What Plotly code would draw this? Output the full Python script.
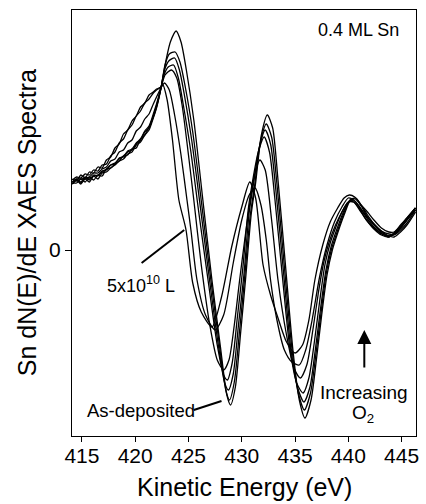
import plotly.graph_objects as go

# ---- data (energy in eV, signal in arbitrary units, 0 = baseline) ----
ev_tail = [414.1, 414.5, 414.9, 415.3, 415.7, 416.1, 416.5, 416.9, 417.3, 417.7, 418.1,
           418.5, 418.9, 419.3, 419.7, 420.1, 420.5, 420.9, 421.3, 421.7, 422.0]

# As-deposited
tail_A = [66, 70, 66, 71, 68, 74, 71, 77, 78, 82, 85, 89, 91, 96, 98, 105, 108, 115, 120, 132, 142]
ev_A = [422.44, 422.9, 423.3, 423.84, 424.3, 424.8, 425.5, 426.35, 427.2, 428.0, 428.6, 428.95,
        429.4, 429.9, 430.35, 430.9, 431.3, 431.84, 432.4, 432.9, 433.4, 434.1, 434.8, 435.4,
        435.93, 436.5, 437.0, 437.5, 438.0, 438.5, 439.0, 439.6, 440.2, 440.7, 441.2, 441.8,
        442.5, 443.2, 443.8, 444.3, 444.9, 445.5, 446.3]
sig_A = [163, 190, 208, 219, 208, 180, 130, 50, -30, -97, -145, -155,
         -137, -82, -30, 37, 67, 115, 135, 122, 70, -15, -100, -150,
         -168, -150, -110, -65, -25, 0, 17, 35, 50, 52, 45, 35,
         25, 18, 14, 13, 18, 25, 38]

tail_B = [67, 67, 71, 68, 73, 70, 75, 74, 81, 82, 86, 89, 94, 95, 101, 102, 111, 115, 123, 133, 143]
ev_B = [422.44, 422.8, 423.2, 423.75, 424.2, 424.7, 425.4, 426.25, 427.1, 427.9, 428.5, 428.85,
        429.3, 429.8, 430.25, 430.8, 431.2, 431.75, 432.3, 432.8, 433.3, 434.0, 434.7, 435.3,
        435.88, 436.45, 436.95, 437.45, 437.95, 438.45, 438.95, 439.55, 440.15, 440.65, 441.2, 441.8,
        442.5, 443.2, 443.8, 444.3, 444.9, 445.5, 446.3]
sig_B = [163, 185, 196, 198, 188, 163, 118, 45, -30, -95, -140, -150,
         -132, -80, -30, 35, 64, 108, 126, 113, 66, -17, -98, -143,
         -160, -143, -105, -62, -22, 2, 18, 36, 50, 51, 44, 33,
         24, 17, 14, 15, 20, 27, 40]

tail_C = [68, 71, 68, 73, 70, 75, 74, 79, 80, 85, 87, 91, 94, 98, 100, 106, 110, 118, 122, 134, 144]
ev_C = [422.44, 422.75, 423.15, 423.7, 424.15, 424.6, 425.3, 426.15, 427.0, 427.8, 428.4, 428.75,
        429.2, 429.7, 430.2, 430.7, 431.1, 431.65, 432.2, 432.7, 433.2, 433.9, 434.6, 435.25,
        435.83, 436.4, 436.9, 437.4, 437.9, 438.4, 438.9, 439.5, 440.1, 440.6, 441.1, 441.8,
        442.5, 443.2, 443.8, 444.3, 444.9, 445.5, 446.3]
sig_C = [163, 180, 189, 192, 180, 156, 110, 40, -32, -95, -133, -140,
         -124, -74, -25, 38, 66, 103, 120, 106, 60, -20, -98, -138,
         -152, -137, -100, -58, -20, 4, 20, 37, 49, 49, 42, 31,
         22, 16, 13, 16, 22, 30, 42]

tail_D = [66, 70, 67, 72, 71, 74, 75, 78, 81, 85, 86, 92, 93, 99, 101, 107, 111, 119, 124, 136, 146]
ev_D = [422.44, 422.7, 423.1, 423.6, 424.05, 424.5, 425.2, 426.0, 426.9, 427.7, 428.3, 428.65,
        429.1, 429.6, 430.1, 430.6, 431.0, 431.55, 432.1, 432.6, 433.1, 433.8, 434.5, 435.15,
        435.75, 436.3, 436.8, 437.3, 437.8, 438.3, 438.8, 439.4, 440.0, 440.5, 441.0, 441.7,
        442.4, 443.1, 443.8, 444.3, 444.9, 445.5, 446.3]
sig_D = [163, 175, 183, 185, 172, 146, 100, 35, -35, -95, -125, -130,
         -113, -66, -18, 40, 68, 98, 113, 98, 52, -25, -97, -133,
         -143, -128, -93, -52, -15, 7, 22, 38, 48, 48, 41, 30,
         21, 15, 13, 17, 23, 31, 42]

tail_E = [68, 71, 71, 72, 73, 77, 77, 81, 83, 89, 91, 98, 100, 107, 110, 119, 123, 131, 136, 146, 153]
ev_E = [422.44, 422.8, 423.4, 423.9, 424.4, 425.0, 425.5, 426.2, 427.0, 427.7, 428.3, 428.8,
        429.3, 429.8, 430.3, 430.8, 431.2, 431.7, 432.2, 432.8, 433.4, 434.2, 434.9, 435.5,
        436.1, 436.7, 437.2, 437.7, 438.2, 438.8, 439.4, 440.0, 440.5, 441.0, 441.7, 442.4,
        443.1, 443.8, 444.3, 444.9, 445.5, 446.3]
sig_E = [163, 175, 180, 172, 145, 95, 50, -15, -75, -110, -120, -110,
         -75, -30, 12, 50, 75, 90, 80, 30, -30, -85, -118, -128,
         -115, -78, -42, -12, 8, 25, 38, 48, 48, 42, 30, 22,
         16, 14, 17, 24, 32, 42]

tail_F = [70, 73, 72, 76, 75, 80, 79, 85, 86, 94, 98, 107, 111, 120, 125, 134, 139, 147, 151, 157, 160]
ev_F = [422.44, 422.75, 423.2, 423.7, 424.3, 424.86, 425.23, 425.8, 426.6, 427.5, 428.3, 429.2,
        430.0, 430.7, 431.25, 431.8, 432.3, 432.7, 433.3, 434.0, 434.7, 435.4, 436.0, 436.6,
        437.3, 438.0, 438.7, 439.4, 440.0, 440.5, 441.0, 441.7, 442.4, 443.1, 443.8, 444.3,
        444.9, 445.5, 446.3]
sig_F = [163, 167, 160, 135, 95, 50, 20, -30, -65, -80, -65, -13,
         30, 55, 62, 45, 10, -30, -70, -100, -112, -115, -100, -70,
         -27, 5, 28, 43, 52, 50, 44, 34, 26, 19, 16, 16,
         22, 30, 40]

# 5x10^10 L
tail_G = [71, 69, 75, 72, 78, 77, 83, 82, 90, 93, 102, 106, 116, 120, 129, 134, 143, 147, 155, 158, 161]
ev_G = [422.44, 422.6, 423.0, 423.5, 424.1, 424.77, 425.4, 426.2, 427.2, 428.1, 429.05, 430.0,
        430.75, 431.3, 432.0, 432.7, 433.4, 434.2, 435.0, 435.7, 436.3, 436.86, 437.6, 438.3,
        439.0, 439.6, 440.1, 440.6, 441.2, 441.8, 442.4, 443.1, 443.8, 444.3, 444.9, 445.5, 446.3]
sig_G = [163, 165, 150, 110, 50, 20, -33, -62, -77, -47, 3, 43,
         68, 52, -15, -45, -68, -92, -103, -95, -70, -30, 5, 28,
         42, 52, 55, 53, 45, 38, 30, 22, 18, 18, 25, 32, 42]

x_ticks = [415, 420, 425, 430, 435, 440, 445]

series = [
    ("As-deposited", ev_tail + ev_A, tail_A + sig_A),
    ("B", ev_tail + ev_B, tail_B + sig_B),
    ("C", ev_tail + ev_C, tail_C + sig_C),
    ("D", ev_tail + ev_D, tail_D + sig_D),
    ("E", ev_tail + ev_E, tail_E + sig_E),
    ("F", ev_tail + ev_F, tail_F + sig_F),
    ("5x10^10 L", ev_tail + ev_G, tail_G + sig_G),
]

FONT = "Liberation Sans, Arial, Helvetica, sans-serif"

fig = go.Figure()
for name, xs, ys in series:
    fig.add_trace(go.Scatter(
        x=xs, y=ys, mode="lines", name=name,
        line=dict(color="black", width=1.3, shape="spline", smoothing=0.7),
        showlegend=False, hoverinfo="skip"))

ann = []
ann.append(dict(x=440.95, y=220, xref="x", yref="y", text="0.4 ML Sn", showarrow=False,
                font=dict(size=18, family=FONT, color="black")))
ann.append(dict(x=420.5, y=-34, xref="x", yref="y", text="5x10<sup>10</sup> L", showarrow=False,
                font=dict(size=18, family=FONT, color="black")))
ann.append(dict(x=420.5, y=-160, xref="x", yref="y", text="As-deposited", showarrow=False,
                font=dict(size=18.5, family=FONT, color="black")))
ann.append(dict(x=441.5, y=-142, xref="x", yref="y", text="Increasing", showarrow=False,
                font=dict(size=19, family=FONT, color="black")))
ann.append(dict(x=441.4, y=-164, xref="x", yref="y", text="O<sub>2</sub>", showarrow=False,
                font=dict(size=19, family=FONT, color="black")))
# arrow for increasing O2
ann.append(dict(x=441.5, y=-80, ax=441.5, ay=-126, xref="x", yref="y", axref="x", ayref="y",
                text=" ", showarrow=True, arrowhead=2, arrowsize=1.4, arrowwidth=2,
                arrowcolor="black"))
# axis titles
ann.append(dict(x=0.5, y=-0.12, xref="paper", yref="paper", text="Kinetic Energy (eV)",
                showarrow=False, xanchor="center", yanchor="middle",
                font=dict(size=25, family=FONT, color="black")))
ann.append(dict(x=-0.13, y=0.5, xref="paper", yref="paper", text="Sn dN(E)/dE XAES Spectra",
                showarrow=False, textangle=-90, xanchor="center", yanchor="middle",
                font=dict(size=25, family=FONT, color="black")))

shapes = [
    dict(type="line", xref="x", yref="y", x0=420.6, y0=-13, x1=424.6, y1=20,
         line=dict(color="black", width=2)),
    dict(type="line", xref="x", yref="y", x0=425.5, y0=-160, x1=428.1, y1=-151,
         line=dict(color="black", width=2)),
]

fig.update_layout(
    width=426, height=504,
    margin=dict(l=72, r=7, t=10, b=68),
    paper_bgcolor="white", plot_bgcolor="white",
    annotations=ann, shapes=shapes,
    font=dict(family=FONT, color="black"),
    xaxis=dict(range=[414.07, 446.35], tickvals=x_ticks, ticks="outside", ticklen=5,
               tickwidth=1, tickcolor="black", showline=True, mirror=True, linecolor="black",
               linewidth=1, showgrid=False, zeroline=False, ticklabelstandoff=-4,
               tickfont=dict(size=21, family=FONT, color="black")),
    yaxis=dict(range=[-186, 240], tickvals=[0], ticktext=["0"], ticks="outside", ticklen=6,
               tickwidth=1, tickcolor="black", showline=True, mirror=True, linecolor="black",
               linewidth=1, showgrid=False, zeroline=False,
               tickfont=dict(size=21, family=FONT, color="black")),
)

fig.write_html("out.html")
